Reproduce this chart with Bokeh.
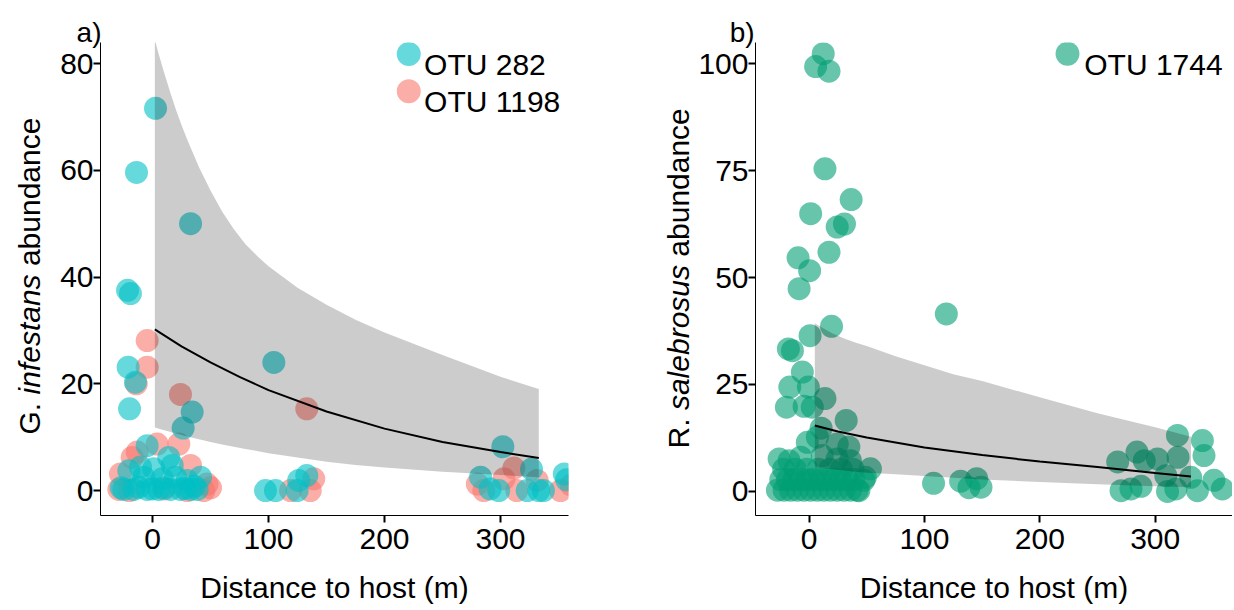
import math
from bokeh.plotting import figure
from bokeh.layouts import row
from bokeh.models import Range1d, FixedTicker, Label, BoxAnnotation
from bokeh.embed import file_html
from bokeh.resources import INLINE

FONT = "Liberation Sans"

# ---------------- Panel a data ----------------
otu282_x = [2.6, -13.8, 32.8, -21.5, -19.0, -21.0, -14.7, -19.8, 104.6, 34.2,
            26.4, -4.6, 14.0, 17.0, 1.1, -10.3, -20.4, 41.4, 29.9, -7.5,
            8.4, 19.8, -24.7, -16.2, -4.6, 5.4, 15.5, 24.1, 32.8, 38.5,
            -27.0, -12.0, 0.0, 10.0, 28.0, 36.0, 97.4, 106.0, 124.7, 126.0,
            133.0, 282.8, 291.0, 298.5, 302.0, 326.7, 323.0, 333.0, 337.0, 355.0,
            357.0]
otu282_y = [71.6, 59.6, 50.0, 37.5, 36.9, 23.1, 20.3, 15.3, 24.0, 14.7,
            11.7, 8.4, 6.2, 4.7, 4.1, 4.4, 3.7, 2.5, 1.9, 2.5,
            2.2, 2.5, 0.2, 0.2, 0.2, 0.2, 0.2, 0.2, 0.2, 0.2,
            0.5, 0.6, 0.3, 0.5, 0.4, 0.8, 0.0, 0.0, 0.0, 1.9,
            2.8, 2.5, 0.3, 0.0, 8.2, 4.0, 0.0, 0.0, 0.0, 3.1,
            2.0]

otu1198_x = [-4.6, -4.6, -14.0, 24.1, 133.0, 4.0, 22.7, -13.2, -17.5, 32.8,
             -27.6, 47.0, -29.0, 50.0, 44.2, -20.0, 10.0, 30.0, 119.0, 136.0,
             139.0, 280.0, 285.6, 303.0, 311.5, 314.0, 331.6, 351.7, 361.0]
otu1198_y = [28.1, 23.1, 20.0, 18.0, 15.3, 8.7, 8.7, 7.2, 6.2, 4.7,
             3.1, 1.2, 0.2, 0.5, 0.0, 0.0, 0.3, 0.0, 0.0, 0.0,
             2.2, 1.2, 0.0, 2.2, 4.2, 0.0, 1.9, 0.0, 1.0]

fit_a_x = [2, 25, 50, 75, 100, 150, 200, 250, 300, 333]
fit_a = [30.2, 27.0, 24.0, 21.3, 18.8, 14.8, 11.6, 9.1, 7.2, 6.1]
band_a_x = [2, 5, 10, 15, 20, 25, 30, 40, 50, 60, 70, 80, 90, 100, 125, 150, 175, 200, 250, 300, 333]
upper_a = [84.5, 82.0, 78.3, 74.8, 71.5, 68.5, 65.7, 60.6, 56.2, 52.3, 49.0, 46.2, 44.0, 42.0,
           38.0, 34.8, 32.0, 29.6, 25.4, 21.3, 19.0]
lower_a = [11.8, 11.6, 11.3, 11.0, 10.7, 10.4, 10.1, 9.6, 9.1, 8.6, 8.2, 7.8, 7.4, 7.0,
           6.2, 5.4, 4.8, 4.3, 3.5, 2.9, 2.5]

# ---------------- Panel b data ----------------
otu1744_x = [12.3, 5.7, 17.3, 13.8, 36.5, 1.4, 30.7, 24.4, 17.3, -9.5,
             0.5, -8.6, 119.0, 19.5, 0.9, -14.4, -17.9,
             -5.8, -16.7, -0.6, -19.6, -4.3, 2.8, 13.8, 32.2, 10.5,
             -1.5, 7.2, 24.4, 34.5,
             -25.9, 53.2, 47.5, -17.3, -7.2, 11.5, 24.4, 35.9, 48.8, 43.2,
             -27.4, -21.6, -15.9, -10.1, -4.3, 1.4, 7.2, 12.9, 18.6, 24.4,
             30.2, 35.9, 41.7,
             -24.5, -18.7, -13.0, -7.2, -1.4, 4.3, 10.1, 15.8, 21.5, 27.3,
             33.1, 38.8,
             -22.0, -12.0, -2.0, 8.0, 18.0, 28.0, 38.0,
             107.9, 131.4, 138.6, 145.3, 149.0, 267.5, 284.2, 290.5, 302.0, 319.3,
             319.8, 340.9, 342.3, 309.2, 330.8, 350.9, 270.4, 279.0, 287.7, 310.7,
             317.9, 336.6, 358.2]
otu1744_y = [102.3, 99.3, 98.2, 75.4, 68.2, 64.9, 62.5, 61.8, 55.9, 54.6,
             51.6, 47.4, 41.5, 38.6, 36.4, 32.9, 33.3,
             27.9, 24.4, 24.4, 19.7, 19.9, 19.7, 21.7, 16.6, 14.8,
             11.5, 12.7, 11.1, 10.4,
             7.6, 5.3, 2.6, 7.2, 8.0, 8.4, 7.6, 7.2, 3.3, 0.2,
             0.3, 0.3, 0.3, 0.3, 0.3, 0.3, 0.3, 0.3, 0.3, 0.3,
             0.3, 0.3, 0.3,
             2.8, 2.8, 2.8, 2.8, 2.8, 2.8, 2.8, 2.8, 2.8, 2.8,
             2.8, 2.8,
             5.2, 5.2, 5.2, 5.2, 5.2, 5.2, 5.2,
             1.9, 2.4, 0.9, 3.0, 1.0, 6.9, 9.2, 7.2, 7.6, 13.1,
             8.0, 11.9, 8.4, 3.7, 3.3, 2.6, 0.2, 0.6, 1.2, 0.0,
             0.6, 0.2, 0.6]

fit_b_x = [5, 25, 50, 100, 150, 200, 250, 300, 331]
fit_b = [15.4, 14.0, 12.6, 10.3, 8.5, 7.0, 5.7, 4.3, 3.5]
band_b_x = [5, 10, 20, 30, 40, 50, 75, 100, 125, 150, 200, 250, 300, 331]
upper_b = [39.3, 38.5, 37.0, 35.8, 34.8, 34.0, 31.6, 29.5, 27.4, 25.8, 22.0, 18.3, 15.0, 12.8]
lower_b = [5.6, 5.5, 5.2, 4.9, 4.6, 4.4, 4.0, 3.6, 3.2, 2.8, 2.2, 1.7, 1.2, 1.0]

x_ticks = [0, 100, 200, 300]
y_ticks_a = [0, 20, 40, 60, 80]
y_ticks_b = [0, 25, 50, 75, 100]

series_a = ["OTU 282", "OTU 1198"]
series_b = ["OTU 1744"]
COL_282, COL_1198, COL_1744 = "#00BFC4", "#F8766D", "#009E73"

TOP, BOTTOM, H = 42, 95, 610   # shared frame borders of every canvas in the row


def style(p, yticks):
    p.xaxis.ticker = FixedTicker(ticks=x_ticks)
    p.yaxis.ticker = FixedTicker(ticks=yticks)
    for ax in (p.xaxis[0], p.yaxis[0]):
        ax.axis_line_color = "black"
        ax.axis_line_width = 1
        ax.major_tick_line_color = "black"
        ax.major_tick_line_width = 2
        ax.major_tick_in = 0
        ax.major_tick_out = 7
        ax.minor_tick_line_color = None
        ax.major_label_text_font = FONT
        ax.major_label_text_font_size = "30px"
        ax.major_label_text_color = "black"
    p.xaxis.major_label_standoff = 6
    p.yaxis.major_label_standoff = 0
    p.xaxis.axis_label = "Distance to host (m)"
    p.xaxis.axis_label_text_font = FONT
    p.xaxis.axis_label_text_font_size = "30px"
    p.xaxis.axis_label_text_font_style = "normal"
    p.xaxis.axis_label_text_color = "black"
    p.xaxis.axis_label_standoff = 19
    p.grid.visible = False
    p.outline_line_color = None
    p.background_fill_color = "white"
    p.border_fill_color = "white"


def add_label(p, text, x, y, style_="normal", size="30px", angle=0.0, align="left", side="center"):
    p.add_layout(Label(x=x, y=y, text=text, angle=angle, text_align=align,
                       text_baseline="alphabetic", text_font=FONT, text_font_size=size,
                       text_font_style=style_, text_color="black"), side)


def legend_entry(p, text, cx, cy, hw, hh, color, tx, ty):
    p.add_layout(BoxAnnotation(left=cx - hw, right=cx + hw, bottom=cy - hh, top=cy + hh,
                               border_radius=12, fill_color=color, fill_alpha=0.6,
                               line_color=None, level="overlay"))
    add_label(p, text, tx, ty)


def title_strip(width, parts, x, y0):
    """Narrow text-only canvas holding a rotated, partly italic axis title.
    Its data units are pixels measured from the canvas bottom-left corner."""
    s = figure(width=width, height=H, x_range=Range1d(0, width), y_range=Range1d(BOTTOM, H - TOP),
               title=None, min_border_left=0, min_border_right=0,
               min_border_top=TOP, min_border_bottom=BOTTOM, x_axis_type=None, y_axis_type=None,
               output_backend="svg", toolbar_location=None)
    s.grid.visible = False
    s.outline_line_color = None
    y = y0
    for text, fstyle, adv in parts:
        add_label(s, text, x, y, style_=fstyle, angle=math.pi / 2)
        y += adv
    return s


# ---------------- Panel a ----------------
pa = figure(width=598, height=H, x_range=Range1d(-44.83, 358.6), y_range=Range1d(-4.68, 83.94),
            min_border_left=55, min_border_right=75, min_border_top=TOP, min_border_bottom=BOTTOM,
            output_backend="svg", toolbar_location=None)
style(pa, y_ticks_a)
pa.scatter(otu1198_x, otu1198_y, size=23, fill_color=COL_1198, fill_alpha=0.6, line_color=None)
pa.scatter(otu282_x, otu282_y, size=23, fill_color=COL_282, fill_alpha=0.6, line_color=None)
pa.varea(x=band_a_x, y1=lower_a, y2=upper_a, fill_color="black", fill_alpha=0.2)
pa.line(fit_a_x, fit_a, line_color="black", line_width=2)
legend_entry(pa, series_a[0], 220.9, 81.8, 10.34, 2.248, COL_282, 234.1, 79.8)
legend_entry(pa, series_a[1], 220.9, 74.8, 10.34, 2.248, COL_1198, 234.1, 72.8)
add_label(pa, "a)", -44.0, 85.8, size="28px", align="right", side="above")
ta = title_strip(45, [("G.", "normal", 40.02), ("infestans", "italic", 128.4),
                      ("abundance", "normal", 150.12)], 29, 176.0)

# ---------------- Panel b ----------------
pb = figure(width=537, height=H, x_range=Range1d(-46.4, 367.0), y_range=Range1d(-5.61, 104.91),
            min_border_left=58, min_border_right=0, min_border_top=TOP, min_border_bottom=BOTTOM,
            output_backend="svg", toolbar_location=None)
style(pb, y_ticks_b)
pb.scatter(otu1744_x, otu1744_y, size=23, fill_color=COL_1744, fill_alpha=0.6, line_color=None)
pb.varea(x=band_b_x, y1=lower_b, y2=upper_b, fill_color="black", fill_alpha=0.2)
pb.line(fit_b_x, fit_b, line_color="black", line_width=2)
legend_entry(pb, series_b[0], 224.0, 102.3, 10.36, 2.804, COL_1744, 238.5, 99.8)
add_label(pb, "b)", -47.2, 107.2, size="28px", align="right", side="above")
tb = title_strip(52, [("R.", "normal", 38.34), ("salebrosus", "italic", 153.39),
                      ("abundance", "normal", 150.12)], 35, 162.1)

layout = row(ta, pa, tb, pb)
open("out.html", "w").write(file_html(layout, INLINE))
